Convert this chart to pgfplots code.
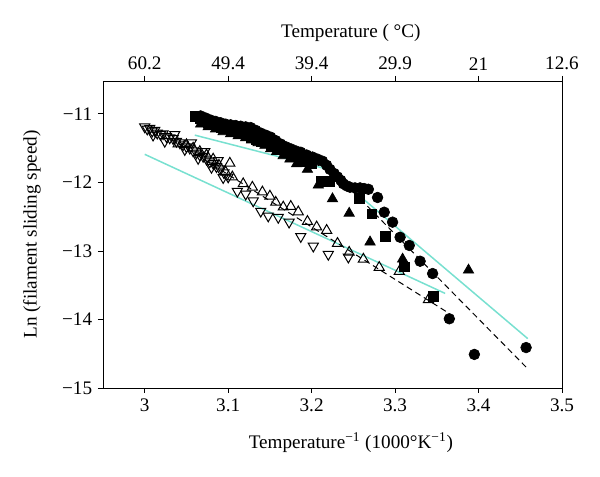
\documentclass[border=0pt]{standalone}
\usepackage{fontspec}
\setmainfont{Liberation Serif}
\usepackage{pgfplots}
\pgfplotsset{compat=1.18}
\definecolor{cyanl}{RGB}{120,224,208}

\begin{document}
\begin{tikzpicture}
\useasboundingbox (-61.8pt,-53.4pt) rectangle (298.2pt,232.8pt);
\begin{axis}[
  scale only axis, width=275.4pt, height=184.2pt,
  xmin=2.95, xmax=3.5, ymin=-15, ymax=-10.52,
  xtick={3,3.1,3.2,3.3,3.4,3.5},
  xticklabels={3,3.1,3.2,3.3,3.4,3.5},
  ytick={-15,-14,-13,-12,-11},
  yticklabels={−15,−14,−13,−12,−11},
  xtick pos=bottom, ytick pos=left,
  tick align=outside, major tick length=3pt,
  tick style={black, line width=0.5pt},
  axis line style={line width=0.5pt},
  ticklabel style={font=\fontsize{11.5}{13}\selectfont},
  label style={font=\fontsize{11.5}{13}\selectfont},
  xlabel={Temperature\textsuperscript{−1} (1000°K\textsuperscript{−1})},
  ylabel={Ln (filament sliding speed)},
  xlabel style={at={(axis description cs:0.54,-0.179)}, anchor=center},
  ylabel style={at={(axis description cs:-0.155,0.5)}, anchor=center},
  clip=false,
]
% fitted lines
\addplot[cyanl, line width=0.9pt] coordinates {(3.06,-11.31) (3.22,-11.81) (3.459,-14.28)};
\addplot[cyanl, line width=0.9pt] coordinates {(3.0,-11.59) (3.36,-13.62)};
\addplot[black, line width=0.6pt, dash pattern=on 3.6pt off 2.4pt] coordinates {(3.10,-11.30) (3.22,-11.80) (3.255,-12.20) (3.459,-14.72)};
\addplot[black, line width=0.6pt, dash pattern=on 3.6pt off 2.4pt] coordinates {(3.03,-11.35) (3.362,-13.89)};

% open down triangles
\addplot[only marks, mark=triangle, mark size=3.5pt, mark options={rotate=180, black, fill=none, line width=0.6pt}] coordinates {
(3.000,-11.19) (3.003,-11.22) (3.006,-11.21) (3.009,-11.25) (3.012,-11.24)
(3.015,-11.28) (3.019,-11.30) (3.022,-11.29) (3.026,-11.33) (3.030,-11.35)
(3.034,-11.36) (3.038,-11.40) (3.042,-11.42) (3.046,-11.45) (3.050,-11.48)
(3.054,-11.50) (3.058,-11.54) (3.062,-11.57) (3.066,-11.60) (3.070,-11.62)
(3.074,-11.66) (3.078,-11.70) (3.082,-11.72) (3.086,-11.77) (3.090,-11.80)
(3.095,-11.86) (3.100,-11.92)
(3.010,-11.31) (3.024,-11.40) (3.036,-11.30) (3.048,-11.52) (3.056,-11.42)
(3.064,-11.65) (3.072,-11.55) (3.080,-11.78) (3.088,-11.68) (3.094,-11.93)
(3.111,-12.13) (3.121,-12.17) (3.130,-12.27) (3.139,-12.42) (3.148,-12.49)
(3.160,-12.51) (3.173,-12.58) (3.187,-12.79) (3.202,-12.93) (3.220,-13.05)
(3.244,-13.09)
};
% open up triangles
\addplot[only marks, mark=triangle, mark size=3.5pt, mark options={black, fill=none, line width=0.6pt}] coordinates {
(3.040,-11.44) (3.050,-11.45) (3.058,-11.50) (3.066,-11.55) (3.074,-11.60) (3.082,-11.66)
(3.089,-11.75) (3.097,-11.85) (3.102,-11.72) (3.105,-11.92) (3.118,-12.02)
(3.129,-12.07) (3.141,-12.14) (3.150,-12.20) (3.157,-12.29) (3.166,-12.36)
(3.175,-12.35) (3.184,-12.43) (3.195,-12.57) (3.206,-12.65) (3.218,-12.70)
(3.231,-12.89) (3.245,-13.02) (3.262,-13.12) (3.281,-13.24) (3.305,-13.30)
(3.340,-13.71)
};
% filled triangles
\addplot[only marks, mark=triangle*, mark size=3.6pt, mark options={black, fill=black}] coordinates {
(3.067,-11.15) (3.076,-11.19) (3.085,-11.22) (3.094,-11.26) (3.103,-11.29)
(3.112,-11.32) (3.121,-11.35) (3.128,-11.38) (3.136,-11.42) (3.144,-11.46)
(3.151,-11.51) (3.158,-11.55) (3.166,-11.61) (3.174,-11.66) (3.182,-11.73)
(3.195,-11.81) (3.208,-12.04)
(3.225,-12.24) (3.245,-12.45) (3.270,-12.87) (3.309,-13.12) (3.388,-13.28)
};
% filled squares
\addplot[only marks, mark=square*, mark size=2.9pt, mark options={black, fill=black}] coordinates {
(3.061,-11.04) (3.066,-11.07) (3.071,-11.09) (3.076,-11.12) (3.081,-11.15)
(3.087,-11.17) (3.092,-11.20) (3.098,-11.22) (3.103,-11.25) (3.109,-11.26)
(3.115,-11.28) (3.121,-11.31) (3.127,-11.34) (3.133,-11.37) (3.139,-11.40)
(3.145,-11.42) (3.151,-11.45) (3.157,-11.48) (3.163,-11.51) (3.169,-11.55)
(3.175,-11.59) (3.181,-11.62) (3.187,-11.66) (3.194,-11.70) (3.200,-11.73)
(3.211,-11.98) (3.221,-11.98) (3.257,-12.23) (3.272,-12.46) (3.288,-12.79)
(3.311,-13.23) (3.346,-13.66)
};
% filled circles
\addplot[only marks, mark=*, mark size=3.2pt, mark options={black, fill=black}] coordinates {
(3.067,-11.03) (3.073,-11.06) (3.079,-11.09) (3.085,-11.11) (3.091,-11.13)
(3.097,-11.15) (3.103,-11.16) (3.109,-11.17) (3.115,-11.18) (3.121,-11.19)
(3.127,-11.20) (3.133,-11.24) (3.139,-11.28) (3.145,-11.31) (3.151,-11.34)
(3.157,-11.39) (3.163,-11.44) (3.169,-11.48) (3.175,-11.51) (3.181,-11.54)
(3.187,-11.56) (3.194,-11.60) (3.201,-11.63) (3.207,-11.66) (3.213,-11.69)
(3.218,-11.75) (3.222,-11.81) (3.227,-11.87) (3.231,-11.92) (3.235,-11.97)
(3.238,-12.02) (3.242,-12.05) (3.246,-12.07) (3.252,-12.08) (3.258,-12.08)
(3.263,-12.09) (3.268,-12.10) (3.279,-12.22)
(3.287,-12.435) (3.297,-12.58) (3.306,-12.80) (3.317,-12.92) (3.330,-13.15)
(3.345,-13.33) (3.365,-13.99) (3.395,-14.51) (3.457,-14.41)
};
\end{axis}
\begin{axis}[
  scale only axis, width=275.4pt, height=184.2pt,
  xmin=2.95, xmax=3.5, ymin=-15, ymax=-10.52,
  axis x line*=top, axis y line=none,
  xtick={3,3.1,3.2,3.3,3.4,3.5},
  xticklabels={60.2,49.4,39.4,29.9,21,12.6},
  tick align=outside, major tick length=3pt,
  tick style={black, line width=0.5pt},
  axis line style={line width=0.5pt},
  ticklabel style={font=\fontsize{11.5}{13}\selectfont},
  label style={font=\fontsize{11.5}{13}\selectfont},
  xlabel={Temperature ( °C)},
  xlabel style={at={(axis description cs:0.54,1.156)}, anchor=center},
]
\addplot[draw=none] coordinates {(3,-12)};
\end{axis}
\end{tikzpicture}
\end{document}
